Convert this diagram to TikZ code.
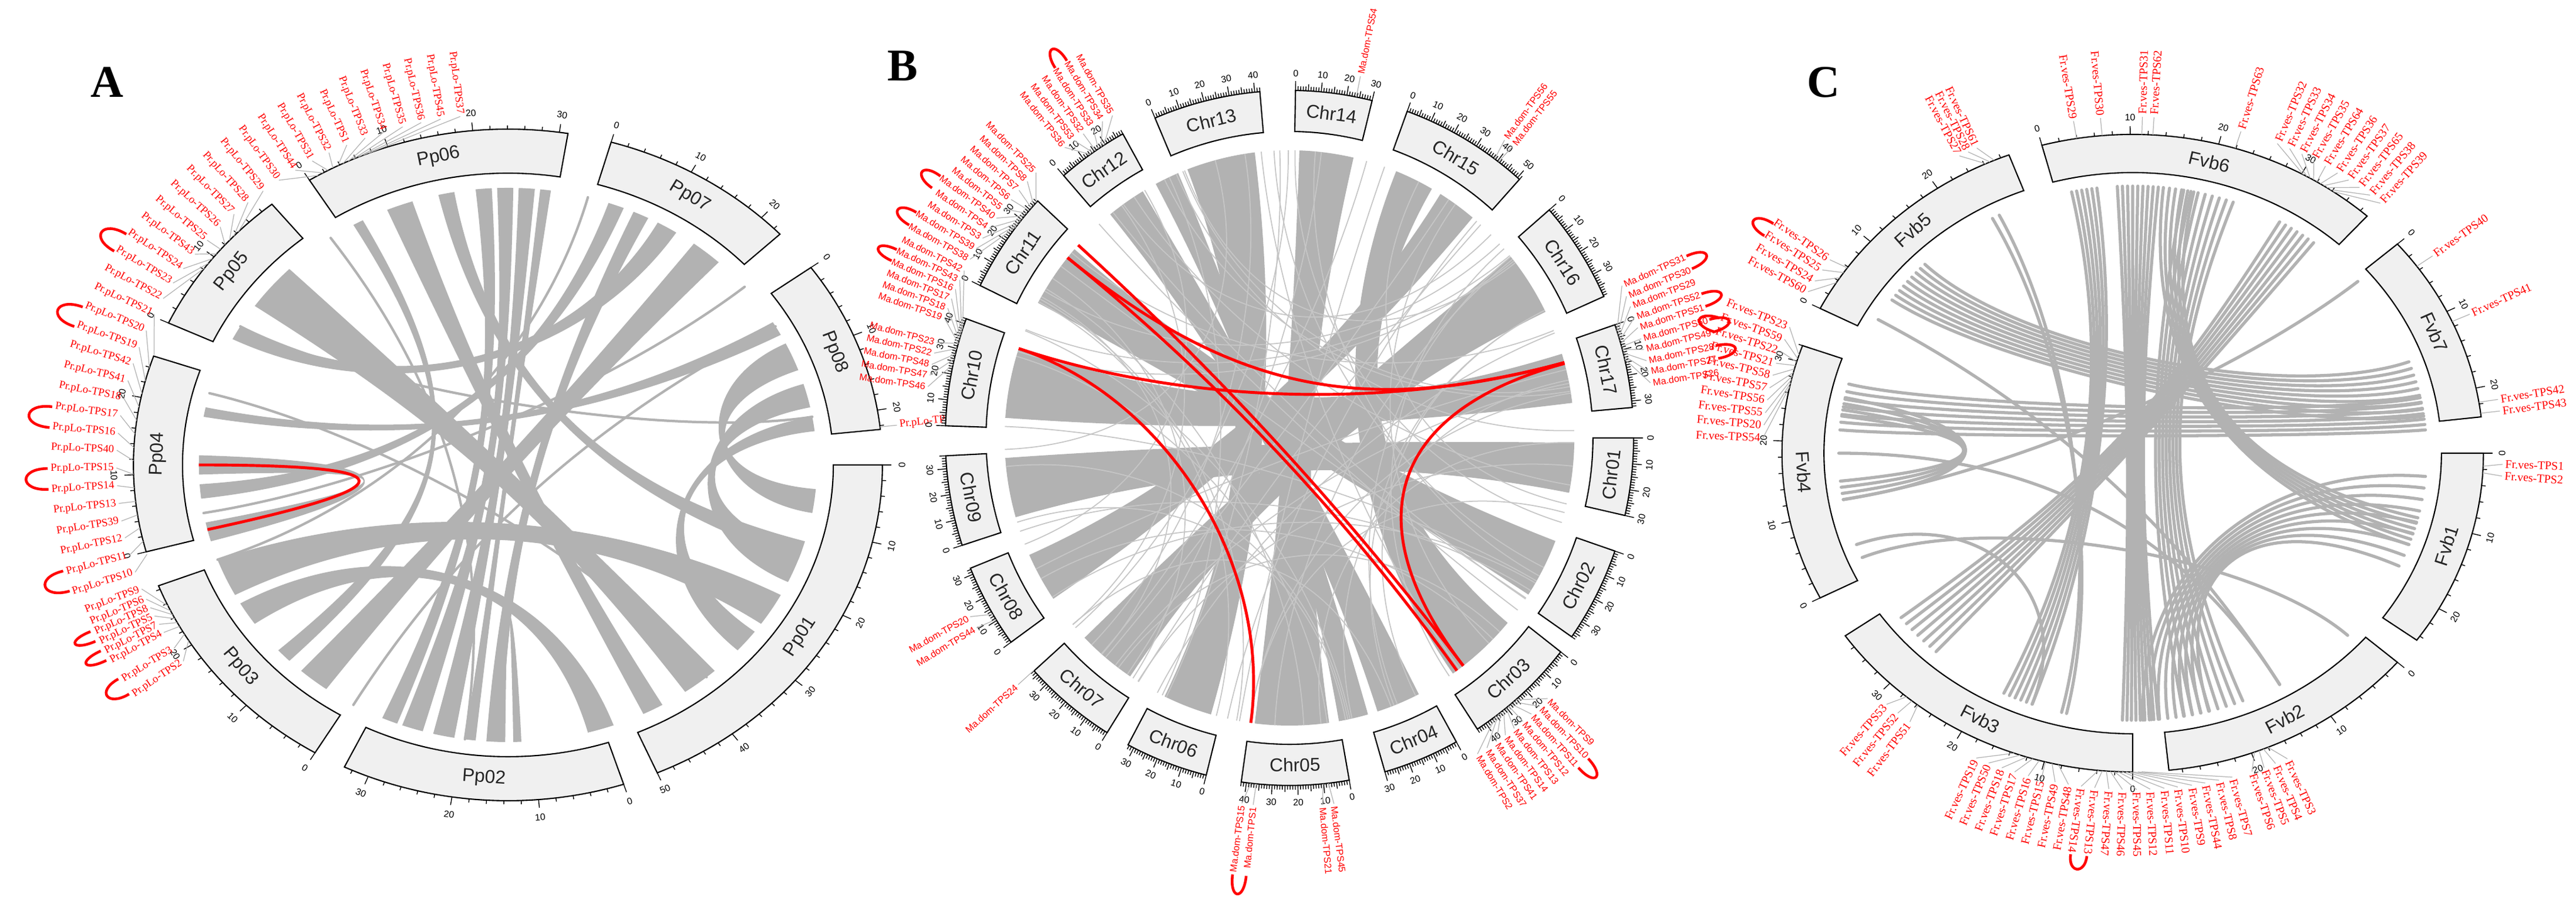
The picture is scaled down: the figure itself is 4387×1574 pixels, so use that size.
\documentclass[tikz,border=0pt]{standalone}
\usepackage{fontspec}
\setmainfont{Liberation Serif}
\newfontfamily\arial{Liberation Sans}
\newcommand\chrom[3]{%
 \pgfmathsetmacro\cend{#1-\kk*#2}%
 \draw[chrbox] (#1:\Rin) arc[start angle=#1,end angle=\cend,radius=\Rin] -- (\cend:\Rout) arc[start angle=\cend,end angle=#1,radius=\Rout] -- cycle;%
 \pgfmathsetmacro\cmid{(#1+\cend)/2}%
 \pgfmathsetmacro\cm{mod(\cmid+540,360)-180}%
 \pgfmathsetmacro\crot{and(\cm>0,\cm<180) ? \cm-90 : \cm+90}%
 \node[chrlab,rotate=\crot] at (\cmid:{(\Rin+\Rout)/2}) {#3};%
 \foreach \p in {0,\tstep,...,#2}{%
   \pgfmathsetmacro\ta{#1-\kk*\p}%
   \pgfmathtruncatemacro\tmA{mod(round(\p),10)}%
   \pgfmathtruncatemacro\tmB{mod(round(\p),5)}%
   \ifnum\tmA=0
     \draw[tk] (\ta:\Rout) -- (\ta:{\Rout+\tkL});
     \pgfmathsetmacro\tm{mod(\ta+540,360)-180}%
     \pgfmathsetmacro\trot{and(\tm>0,\tm<180) ? \tm-90 : \tm+90}%
     \pgfmathtruncatemacro\pq{\p}%
     \node[tklab,rotate=\trot] at (\ta:{\Rout+\tkL+\tkG}) {\pq};
   \else\ifnum\tmB=0
     \draw[tk] (\ta:\Rout) -- (\ta:{\Rout+0.7*\tkL});
   \else
     \draw[tk] (\ta:\Rout) -- (\ta:{\Rout+0.45*\tkL});
   \fi\fi}}
\newcommand\rib[5]{\fill[rib] (#1:\Rr) arc[start angle=#1,end angle=#2,radius=\Rr] .. controls (#2:#5) and (#3:#5) .. (#3:\Rr) arc[start angle=#3,end angle=#4,radius=\Rr] .. controls (#4:#5) and (#1:#5) .. cycle;}
\newcommand\bund[7]{\foreach \q in {0,...,#5}{\pgfmathsetmacro\ba{#1+(#2-#1)*\q/#5}\pgfmathsetmacro\bb{#4-(#4-#3)*\q/#5}\draw[ribl,line width=#7] (\ba:\Rr) .. controls (\ba:#6) and (\bb:#6) .. (\bb:\Rr);}}
\newcommand\lnk[4]{\draw[ribl,line width=#4] (#1:\Rr) .. controls (#1:#3) and (#2:#3) .. (#2:\Rr);}
\newcommand\labin[4]{\foreach \lt/\ls in {#4}{\pgfmathsetmacro\tc{#1+(\lt-#2)*#3}\draw[lead] (\tc:\Rout) -- (\lt:{\Rl-2}); \node[lab,anchor=east,rotate=\lt+180] at (\lt:\Rl) {\ls};}}
\newcommand\labout[4]{\foreach \lt/\ls in {#4}{\pgfmathsetmacro\tc{#1+(\lt-#2)*#3}\draw[lead] (\tc:\Rout) -- (\lt:{\Rl-2}); \node[lab,anchor=west,rotate=\lt] at (\lt:\Rl) {\ls};}}
\newcommand\lp[4]{\draw[red,line width=1.3pt] (#1:#3) .. controls (#1:#4) and (#2:#4) .. (#2:#3);}
\begin{document}
\begin{tikzpicture}[x=0.01cm,y=0.01cm,
 chrbox/.style={draw=black,fill=gray!12,line width=0.6pt},
 tk/.style={line width=0.4pt},
 chrlab/.style={font=\arial\fontsize{9}{10}\selectfont,text=black!85},
 tklab/.style={font=\arial\fontsize{4.5}{5}\selectfont,inner sep=0pt},
 lead/.style={gray!60,line width=0.35pt},
 rib/.style={fill=gray!60},
 ribl/.style={draw=gray!60,line cap=round},
 redc/.style={draw=red,line width=1.4pt},
 panel/.style={font=\fontsize{22}{24}\selectfont\bfseries}]
\useasboundingbox (0,0) rectangle (4387,1574);
\fill[white] (0,0) rectangle (4387,1574);
\node[panel] at (182,1434) {A};
\node[panel] at (1537,1462) {B};
\node[panel] at (3105,1434) {C};
% ================= A
\begin{scope}[shift={(865,782)},xscale=1.115,
  lab/.style={text=red,font=\fontsize{5.3}{6}\selectfont,inner sep=0.5pt}]
\def\Rin{497}\def\Rout{572}\def\Rr{472}\def\Rl{600}\def\kk{1.33}\def\tstep{2}\def\tkL{14}\def\tkG{16}
\rib{82}{84}{262}{264}{80}
\rib{85}{88}{256}{260}{90}
\rib{89}{92}{250}{254}{80}
\rib{93}{96}{246}{249}{110}
\rib{108}{113}{296}{300}{130}
\rib{47}{53}{228}{234}{130}
\rib{57}{61}{150}{153}{200}
\rib{63}{66}{266}{269}{140}
\rib{-10}{-5}{20}{26}{300}
\rib{-25}{-18}{12}{17}{280}
\rib{-42}{-37}{7}{10}{250}
\rib{28}{31}{168}{170}{150}
\rib{135}{145}{305}{312}{110}
\rib{200}{208}{325}{332}{170}
\rib{210}{215}{285}{290}{200}
\rib{118}{120}{222}{225}{100}
\rib{268}{269.5}{271}{272.5}{180}
\rib{-20}{-16}{100}{103}{150}
\rib{68}{71}{184}{187}{150}
\rib{178}{182}{192}{196}{140}
\lnk{150}{10}{250}{1.2pt}
\lnk{165}{310}{200}{1.2pt}
\lnk{125}{262}{150}{1.2pt}
\lnk{30}{240}{150}{1.2pt}
\lnk{75}{200}{180}{1.2pt}
\lnk{40}{190}{200}{1.2pt}
\draw[redc] (180:472) .. controls (180:150) and (193.5:150) .. (193.5:472);
\chrom{122}{31}{Pp06}
\chrom{74}{23}{Pp07}
\chrom{36}{22.5}{Pp08}
\chrom{0}{50}{Pp01}
\chrom{-72}{33}{Pp02}
\chrom{-121}{28.5}{Pp03}
\chrom{195}{25.5}{Pp04}
\chrom{155}{19.5}{Pp05}
\labin{116}{111}{0.3}{97/Pr.pLo-TPS37,99.9/Pr.pLo-TPS45,102.8/Pr.pLo-TPS36,105.6/Pr.pLo-TPS35,108.5/Pr.pLo-TPS34,111.4/Pr.pLo-TPS33,114.3/Pr.pLo-TPS1,117.2/Pr.pLo-TPS32,120/Pr.pLo-TPS31,122.9/Pr.pLo-TPS44,125.8/Pr.pLo-TPS30}
\labin{140}{140}{0.35}{128.7/Pr.pLo-TPS29,131.6/Pr.pLo-TPS28,134.4/Pr.pLo-TPS27,137.3/Pr.pLo-TPS26,140.2/Pr.pLo-TPS25,143.1/Pr.pLo-TPS43,146/Pr.pLo-TPS24,148.8/Pr.pLo-TPS23,151.7/Pr.pLo-TPS22}
\labin{178}{176}{0.8}{154.6/Pr.pLo-TPS21,157.5/Pr.pLo-TPS20,160.4/Pr.pLo-TPS19,163.2/Pr.pLo-TPS42,166.1/Pr.pLo-TPS41,169/Pr.pLo-TPS18,171.9/Pr.pLo-TPS17,174.8/Pr.pLo-TPS16,177.6/Pr.pLo-TPS40,180.5/Pr.pLo-TPS15,183.4/Pr.pLo-TPS14,186.3/Pr.pLo-TPS13,189.2/Pr.pLo-TPS39,192/Pr.pLo-TPS12,194.9/Pr.pLo-TPS11,197.8/Pr.pLo-TPS10}
\labin{208}{207}{0.5}{200.7/Pr.pLo-TPS9,202.5/Pr.pLo-TPS6,204/Pr.pLo-TPS8,205.5/Pr.pLo-TPS5,207/Pr.pLo-TPS7,208.5/Pr.pLo-TPS4,211.5/Pr.pLo-TPS3,214/Pr.pLo-TPS2}
\labout{6.5}{6.5}{1}{6.5/Pr.pLo-TPS38}
\lp{146}{148.8}{703}{748}
\lp{157.5}{160.4}{703}{748}
\lp{171.9}{174.8}{703}{748}
\lp{180.5}{183.4}{703}{748}
\lp{194.9}{197.8}{703}{748}
\lp{204}{205.5}{698}{738}
\lp{207}{208.5}{698}{738}
\lp{211.5}{214}{698}{738}
\end{scope}
% ================= B
\begin{scope}[shift={(2196,828)},xscale=0.99,
  lab/.style={text=red,font=\arial\fontsize{4.6}{5.5}\selectfont,inner sep=0.5pt}]
\def\Rin{522}\def\Rout{592}\def\Rr{490}\def\Rl{630}\def\kk{0.43}\def\tstep{1}\def\tkL{16}\def\tkG{13}
\rib{97}{111}{244}{254}{150}
\rib{77}{88}{263}{278}{120}
\rib{60}{68}{305}{320}{170}
\rib{50}{58}{204}{214}{170}
\rib{26}{39}{224}{236}{150}
\rib{162}{176}{367}{377}{140}
\rib{184}{196}{349}{359}{160}
\rib{139}{152}{327}{339}{150}
\rib{121}{129}{288}{297}{150}
\rib{113}{118}{280}{286}{150}
\pgfmathsetseed{7}
\foreach \i in {1,...,60}{\pgfmathsetmacro\aa{rnd*360}\pgfmathsetmacro\bb{\aa+70+rnd*220}
 \draw[draw=gray!45,line width=0.5pt] (\aa:\Rr) .. controls (\aa:200) and (\bb:200) .. (\bb:\Rr);}
\draw[redc] (137.9:490) .. controls (137.9:160) and (307.6:160) .. (307.6:490);
\draw[redc] (141.2:490) .. controls (141.2:160) and (306:160) .. (306:490);
\draw[redc] (141.2:490) .. controls (141.2:130) and (15.2:130) .. (15.2:490);
\draw[redc] (161.9:490) .. controls (161.9:184) and (15.2:184) .. (15.2:490);
\draw[redc] (161.9:490) .. controls (161.9:220) and (262.2:220) .. (262.2:490);
\draw[redc] (15:490) .. controls (15:180) and (307.6:180) .. (307.6:490);
\chrom{89}{30}{Chr14}
\chrom{70}{51}{Chr15}
\chrom{41}{39.5}{Chr16}
\chrom{19}{32.5}{Chr17}
\chrom{0}{30}{Chr01}
\chrom{-19}{37}{Chr02}
\chrom{-38}{44}{Chr03}
\chrom{-61}{30}{Chr04}
\chrom{-80}{42}{Chr05}
\chrom{-104}{32.5}{Chr06}
\chrom{-122}{37}{Chr07}
\chrom{-144}{32.5}{Chr08}
\chrom{198}{35}{Chr09}
\chrom{178}{42}{Chr10}
\chrom{154}{39.5}{Chr11}
\chrom{131}{28}{Chr12}
\chrom{113}{42}{Chr13}
\labin{124}{123.5}{0.3}{119/Ma.dom-TPS35,120.8/Ma.dom-TPS34,122.6/Ma.dom-TPS33,124.4/Ma.dom-TPS32,126.2/Ma.dom-TPS53,128/Ma.dom-TPS36}
\labin{140}{142.5}{0.3}{134/Ma.dom-TPS25,135.9/Ma.dom-TPS8,137.8/Ma.dom-TPS7,139.7/Ma.dom-TPS6,141.6/Ma.dom-TPS5,143.4/Ma.dom-TPS40,145.3/Ma.dom-TPS4,147.2/Ma.dom-TPS3,149.1/Ma.dom-TPS39,151/Ma.dom-TPS38}
\labin{163}{157}{0.3}{153/Ma.dom-TPS42,154.6/Ma.dom-TPS43,156.2/Ma.dom-TPS16,157.8/Ma.dom-TPS17,159.4/Ma.dom-TPS18,161/Ma.dom-TPS19}
\labin{166}{168.5}{0.5}{165/Ma.dom-TPS23,166.7/Ma.dom-TPS22,168.5/Ma.dom-TPS48,170.2/Ma.dom-TPS47,172/Ma.dom-TPS46}
\labin{211}{210}{0.5}{209/Ma.dom-TPS20,211/Ma.dom-TPS44}
\labin{222}{222}{1}{222/Ma.dom-TPS24}
\labin{264}{263.4}{0.5}{262.5/Ma.dom-TPS15,264.3/Ma.dom-TPS1}
\labout{276}{276}{0.5}{275.2/Ma.dom-TPS21,277/Ma.dom-TPS45}
\labout{309}{308}{0.3}{315/Ma.dom-TPS9,313.25/Ma.dom-TPS10,311.5/Ma.dom-TPS11,309.75/Ma.dom-TPS12,308/Ma.dom-TPS13,306.25/Ma.dom-TPS14,304.5/Ma.dom-TPS41,302.75/Ma.dom-TPS37,301/Ma.dom-TPS2}
\labout{15.5}{16.5}{0.3}{24.4/Ma.dom-TPS31,22.6/Ma.dom-TPS30,20.9/Ma.dom-TPS29,19.1/Ma.dom-TPS52,17.4/Ma.dom-TPS51,15.6/Ma.dom-TPS50,13.9/Ma.dom-TPS49,12.1/Ma.dom-TPS28,10.4/Ma.dom-TPS27,8.6/Ma.dom-TPS26}
\labout{53}{53.1}{0.5}{53.9/Ma.dom-TPS56,52.3/Ma.dom-TPS55}
\labout{78.8}{78.8}{1}{78.8/Ma.dom-TPS54}
\lp{120.8}{122.6}{748}{788}
\lp{143.4}{145.3}{748}{788}
\lp{149.1}{151}{748}{788}
\lp{154.6}{156.2}{748}{788}
\lp{262.5}{264.3}{750}{793}
\lp{313.25}{311.5}{750}{793}
\lp{24.4}{22.6}{750}{793}
\lp{19.1}{17.4}{750}{793}
\lp{15.6}{13.9}{750}{793}
\lp{12.1}{10.4}{750}{793}
\end{scope}
% ================= C
\begin{scope}[shift={(3632,802)},xscale=1.1,
  lab/.style={text=red,font=\fontsize{5.7}{6.5}\selectfont,inner sep=0.5pt}]
\def\Rin{478}\def\Rout{543}\def\Rr{455}\def\Rl{575}\def\kk{1.46}\def\tstep{2}\def\tkL{14}\def\tkG{15}
\bund{97}{102}{244}{250}{5}{150}{1.5pt}
\bund{85}{93}{268}{275}{8}{100}{1.5pt}
\bund{70}{80}{280}{292}{7}{120}{1.5pt}
\bund{52}{60}{218}{228}{6}{80}{1.5pt}
\bund{135}{145}{368}{380}{8}{250}{1.5pt}
\bund{165}{175}{365}{372}{6}{300}{1.5pt}
\bund{272}{285}{335}{355}{8}{200}{1.5pt}
\bund{340}{346}{438}{444}{5}{150}{1.5pt}
\bund{168}{172}{186}{190}{3}{200}{1.5pt}
\lnk{203}{317}{250}{1.5pt}
\lnk{117}{256}{200}{1.5pt}
\lnk{118.5}{257}{200}{1.5pt}
\lnk{180}{300}{150}{1.5pt}
\lnk{200}{250}{250}{1.5pt}
\lnk{190}{40}{200}{1.5pt}
\lnk{150}{300}{150}{1.5pt}
\chrom{105}{39}{Fvb6}
\chrom{41}{23.6}{Fvb7}
\chrom{0}{24.6}{Fvb1}
\chrom{-41}{29.5}{Fvb2}
\chrom{-90}{37.7}{Fvb3}
\chrom{207}{32}{Fvb4}
\chrom{153}{29}{Fvb5}
\labin{97}{97}{1}{99.2/Fr.ves-TPS29,95/Fr.ves-TPS30}
\labout{80}{80}{1}{88.5/Fr.ves-TPS31,86.7/Fr.ves-TPS62,73/Fr.ves-TPS63}
\labout{58}{57.5}{0.3}{67/Fr.ves-TPS32,64.9/Fr.ves-TPS33,62.8/Fr.ves-TPS34,60.7/Fr.ves-TPS35,58.6/Fr.ves-TPS64,56.4/Fr.ves-TPS36,54.3/Fr.ves-TPS37,52.2/Fr.ves-TPS65,50.1/Fr.ves-TPS38,48/Fr.ves-TPS39}
\labout{20}{20}{1}{35.9/Fr.ves-TPS40,24.4/Fr.ves-TPS41,9.2/Fr.ves-TPS42,7.2/Fr.ves-TPS43}
\labout{357}{357}{0.6}{358.1/Fr.ves-TPS1,356.1/Fr.ves-TPS2}
\labout{291.5}{291.75}{0.4}{294.7/Fr.ves-TPS3,292.7/Fr.ves-TPS4,290.8/Fr.ves-TPS5,288.8/Fr.ves-TPS6}
\labout{268}{274}{0.3}{285.6/Fr.ves-TPS7,283.5/Fr.ves-TPS8,281.3/Fr.ves-TPS44,279.2/Fr.ves-TPS9,277/Fr.ves-TPS10,274.9/Fr.ves-TPS11,272.7/Fr.ves-TPS12,270.6/Fr.ves-TPS45,268.4/Fr.ves-TPS46,266.3/Fr.ves-TPS47,264.1/Fr.ves-TPS13,262/Fr.ves-TPS14}
\labin{254}{252.5}{0.5}{260/Fr.ves-TPS48,257.9/Fr.ves-TPS49,255.7/Fr.ves-TPS15,253.6/Fr.ves-TPS16,251.4/Fr.ves-TPS17,249.3/Fr.ves-TPS18,247.1/Fr.ves-TPS50,245/Fr.ves-TPS19}
\labin{231}{230.6}{0.5}{228.3/Fr.ves-TPS53,230.6/Fr.ves-TPS52,233/Fr.ves-TPS51}
\labin{165}{167.7}{0.3}{158/Fr.ves-TPS23,160.2/Fr.ves-TPS59,162.3/Fr.ves-TPS22,164.5/Fr.ves-TPS21,166.6/Fr.ves-TPS58,168.8/Fr.ves-TPS57,170.9/Fr.ves-TPS56,173.1/Fr.ves-TPS55,175.2/Fr.ves-TPS20,177.4/Fr.ves-TPS54}
\labin{146}{148}{0.5}{144.9/Fr.ves-TPS26,147/Fr.ves-TPS25,149.2/Fr.ves-TPS24,151.3/Fr.ves-TPS60}
\labin{114}{116.4}{0.5}{117.9/Fr.ves-TPS27,116.4/Fr.ves-TPS28,114.9/Fr.ves-TPS61}
\lp{264.1}{262}{690}{722}
\lp{160.2}{162.3}{680}{718}
\lp{144.9}{147}{680}{718}
\end{scope}
\end{tikzpicture}
\end{document}
